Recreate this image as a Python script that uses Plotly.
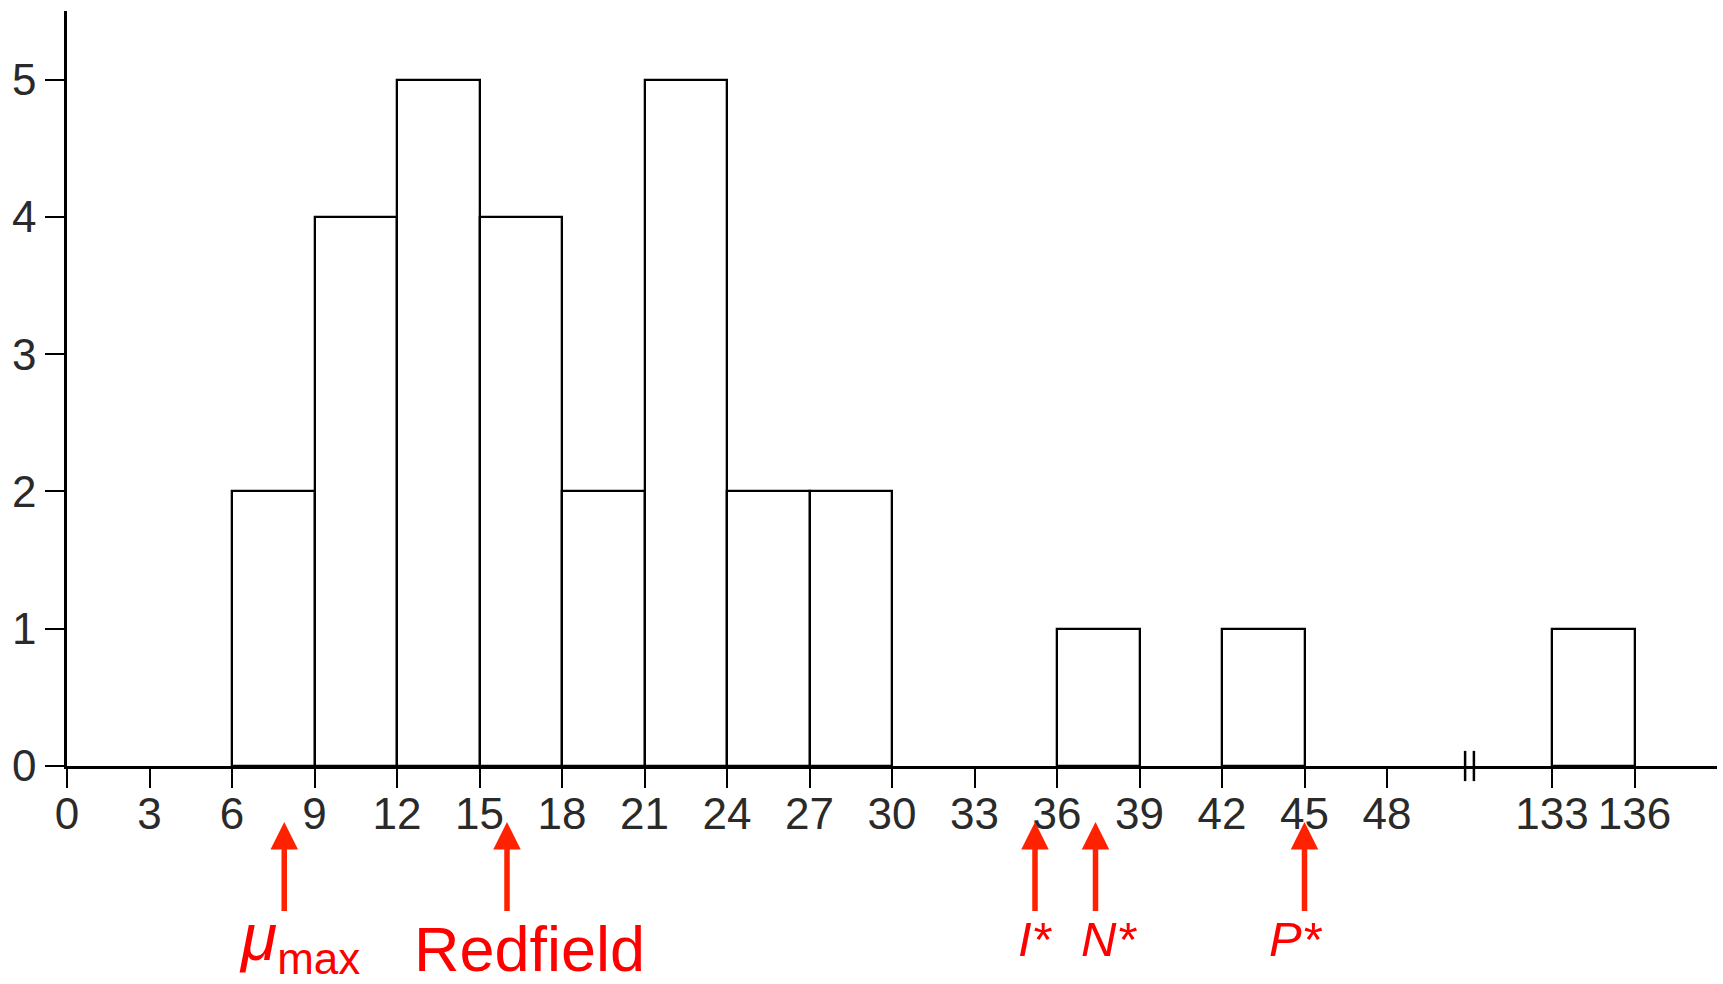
import plotly.graph_objects as go

# ---- data ----
bin_left = [6, 9, 12, 15, 18, 21, 24, 27, 36, 42, 133]
counts = [2, 4, 5, 4, 2, 5, 2, 2, 1, 1, 1]
bin_width = 3
tick_values = [0, 3, 6, 9, 12, 15, 18, 21, 24, 27, 30, 33, 36, 39, 42, 45, 48, 133, 136]
marker_names = ["<i>μ</i><sub>max</sub>", "Redfield", "<i>I*</i>", "<i>N*</i>", "<i>P*</i>"]
marker_values = [7.9, 16, 35.2, 37.4, 45]

# axis break: values above BREAK_HI are shifted left so that BREAK_HI sits 3 units after the break
BREAK_AT = 51
BREAK_HI = 133
SHIFT = BREAK_HI - (BREAK_AT + 3)


def disp(v):
    return v - SHIFT if v >= BREAK_HI else v


centers = [disp(b) + bin_width / 2 for b in bin_left]

fig = go.Figure()
fig.add_trace(go.Bar(
    x=centers, y=counts, width=bin_width,
    marker=dict(color="white", line=dict(color="black", width=2.3)),
    showlegend=False, hoverinfo="skip",
))

tick_font = dict(family="Liberation Sans Narrow, Liberation Sans, Arial, sans-serif", size=44, color="#2a2a2a")

fig.update_layout(
    width=1723, height=984,
    margin=dict(l=67, r=6, t=11, b=218),
    paper_bgcolor="white", plot_bgcolor="white",
    bargap=0,
    xaxis=dict(
        range=[0, 60], tickmode="array",
        tickvals=[disp(v) for v in tick_values],
        ticktext=[str(v) for v in tick_values],
        showline=True, linecolor="black", linewidth=2.5,
        ticks="outside", ticklen=19, tickwidth=2, tickcolor="black",
        showgrid=False, zeroline=False, tickfont=tick_font,
        ticklabelstandoff=-12,
    ),
    yaxis=dict(
        range=[0, 5.5], tickmode="array", tickvals=[0, 1, 2, 3, 4, 5],
        showline=True, linecolor="black", linewidth=2.5,
        ticks="outside", ticklen=19, tickwidth=2, tickcolor="black",
        showgrid=False, zeroline=False, tickfont=tick_font,
    ),
)

# axis break marks
for xb in (BREAK_AT - 0.16, BREAK_AT + 0.16):
    fig.add_shape(type="line", xref="x", yref="paper", x0=xb, x1=xb, y0=-0.02, y1=0.02,
                  line=dict(color="black", width=2.5), layer="above")

# red arrows and labels
label_shift = [15, 22, 0, 13, -9]
label_y = [-0.232, -0.242, -0.229, -0.229, -0.229]
label_size = [[66, 44], 63, 49, 49, 49]
for name, v, dx, ly, fs in zip(marker_names, marker_values, label_shift, label_y, label_size):
    fig.add_annotation(
        x=disp(v), y=-0.0742, xref="x", yref="paper",
        ax=0, ay=92, text=" ", showarrow=True,
        arrowhead=2, arrowsize=1.0, arrowwidth=5.5, arrowcolor="#ff2200",
        standoff=0, font=dict(size=2),
    )
    if isinstance(fs, list):
        txt = name.replace("<sub>max</sub>", "<sub><span style='font-size:%dpx'>max</span></sub>" % fs[1])
        size = fs[0]
    else:
        txt, size = name, fs
    fig.add_annotation(
        x=disp(v), y=ly, xref="x", yref="paper", xshift=dx,
        text=txt, showarrow=False, yanchor="middle", xanchor="center",
        font=dict(family="Liberation Sans, Arial, sans-serif", size=size, color="#ff0000"),
    )

fig.write_html("out.html")
